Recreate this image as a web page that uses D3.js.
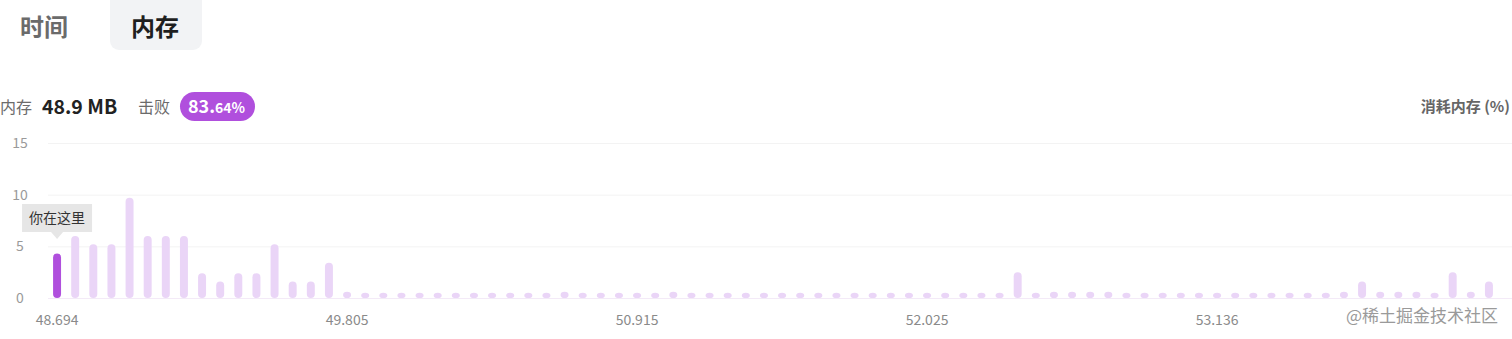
<!DOCTYPE html>
<html>
<head>
<meta charset="utf-8">
<script src="https://cdn.jsdelivr.net/npm/d3@7"></script>
<style>
  html, body { margin: 0; padding: 0; background: #fff; }
  body { width: 1512px; height: 339px; overflow: hidden; font-family: "Noto Sans CJK SC", "Noto Sans", sans-serif; }
  svg text { font-family: "Noto Sans CJK SC", "Noto Sans", sans-serif; }
</style>
</head>
<body>
<svg width="1512" height="339"></svg>
<script>
// memory percentage per bin (80 bins), first bin is "you are here"
const values = [
  4.3, 6, 5.2, 5.2, 9.7, 6, 6, 6, 2.4, 1.6,
  2.4, 2.4, 5.2, 1.6, 1.6, 3.4, 0.6, 0.5, 0.5, 0.5,
  0.5, 0.5, 0.5, 0.5, 0.5, 0.5, 0.5, 0.5, 0.6, 0.5,
  0.5, 0.5, 0.5, 0.5, 0.6, 0.5, 0.5, 0.5, 0.5, 0.5,
  0.5, 0.5, 0.5, 0.5, 0.5, 0.5, 0.5, 0.5, 0.5, 0.5,
  0.5, 0.5, 0.5, 2.5, 0.5, 0.6, 0.6, 0.6, 0.6, 0.5,
  0.5, 0.5, 0.5, 0.5, 0.5, 0.5, 0.5, 0.5, 0.5, 0.5,
  0.5, 0.6, 1.6, 0.6, 0.6, 0.6, 0.5, 2.5, 0.6, 1.6
]
const categories = d3.range(values.length)
const yTicks = [0, 5, 10, 15]
const xTickIndex = [0, 16, 32, 48, 64]
const xTickLabels = ['48.694', '49.805', '50.915', '52.025', '53.136']
const current = 0

const purple = '#b04fdd'
const light = '#ead5f7'

const svg = d3.select('svg')

// tabs
svg.append('rect').attr('x', 110).attr('y', -10).attr('width', 92).attr('height', 60)
  .attr('rx', 9).attr('fill', '#f2f3f5')
svg.append('text').attr('x', 20).attr('y', 36).attr('font-size', 24).attr('fill', '#6b6b6b')
  .attr('font-weight', 700).text('时间')
svg.append('text').attr('x', 131).attr('y', 36).attr('font-size', 24).attr('fill', '#1f1f1f')
  .attr('font-weight', 700).text('内存')

// header row
svg.append('text').attr('x', 0).attr('y', 113).attr('font-size', 16).attr('fill', '#6b6b6b').text('内存')
svg.append('text').attr('x', 42).attr('y', 114).attr('font-size', 19.5).attr('font-weight', 700)
  .attr('fill', '#222').attr('font-family', 'Lato, "Noto Sans", sans-serif').text('48.9 MB')
svg.append('text').attr('x', 138).attr('y', 113).attr('font-size', 16).attr('fill', '#6b6b6b').text('击败')
svg.append('rect').attr('x', 180).attr('y', 92).attr('width', 75).attr('height', 29).attr('rx', 14.5).attr('fill', purple)
const badge = svg.append('text').attr('x', 188).attr('y', 113).attr('fill', '#fff').attr('font-weight', 700)
  .attr('font-family', 'Lato, "Noto Sans", sans-serif')
badge.append('tspan').attr('font-size', 18).text('83.')
badge.append('tspan').attr('font-size', 14).text('64%')
svg.append('text').attr('x', 1510).attr('y', 112).attr('text-anchor', 'end').attr('font-size', 15)
  .attr('font-weight', 700).attr('fill', '#666').text('消耗内存 (%)')

// scales
const x = d3.scaleBand().domain(categories).range([48, 1498]).paddingInner(0.56).paddingOuter(0.28)
const y = d3.scaleLinear().domain([0, 15]).range([298, 143])

// grid
svg.append('g').selectAll('line').data(yTicks).enter().append('line')
  .attr('x1', 48).attr('x2', 1512)
  .attr('y1', (d) => y(d) + 0.5).attr('y2', (d) => y(d) + 0.5)
  .attr('stroke', (d) => (d === 0 ? '#f3eaf7' : '#f3f3f3'))

// y labels
svg.append('g').selectAll('text').data(yTicks).enter().append('text')
  .attr('x', 20).attr('y', (d) => y(d) + 5).attr('text-anchor', 'middle')
  .attr('font-size', 14).attr('fill', '#9a9a9a').attr('font-family', '"Open Sans", sans-serif')
  .text((d) => d)

// bars
svg.append('g').selectAll('rect').data(values).enter().append('rect')
  .attr('x', (d, i) => x(i))
  .attr('width', x.bandwidth())
  .attr('y', (d) => y(d))
  .attr('height', (d) => y(0) - y(d))
  .attr('rx', x.bandwidth() / 2)
  .attr('ry', (d) => Math.min(x.bandwidth() / 2, (y(0) - y(d)) / 2))
  .attr('fill', (d, i) => (i === current ? purple : light))

// x labels
svg.append('g').selectAll('text').data(xTickIndex).enter().append('text')
  .attr('x', (d) => x(d) + x.bandwidth() / 2).attr('y', 325).attr('text-anchor', 'middle')
  .attr('font-size', 14).attr('fill', '#8a8a8a').attr('font-family', '"Open Sans", sans-serif')
  .text((d, i) => xTickLabels[i])

// tooltip above current bar
const cx = x(current) + x.bandwidth() / 2
const tip = svg.append('g')
tip.append('rect').attr('x', cx - 35).attr('y', 204).attr('width', 70).attr('height', 28).attr('fill', '#e6e6e6')
tip.append('path').attr('d', `M${cx - 6},232 L${cx},239 L${cx + 6},232 Z`).attr('fill', '#e6e6e6')
tip.append('text').attr('x', cx).attr('y', 223).attr('text-anchor', 'middle').attr('font-size', 14)
  .attr('fill', '#333').text('你在这里')

// watermark
svg.append('text').attr('x', 1498).attr('y', 322).attr('text-anchor', 'end').attr('font-size', 17)
  .attr('fill', '#9a9a9a').text('@稀土掘金技术社区')
</script>
</body>
</html>
